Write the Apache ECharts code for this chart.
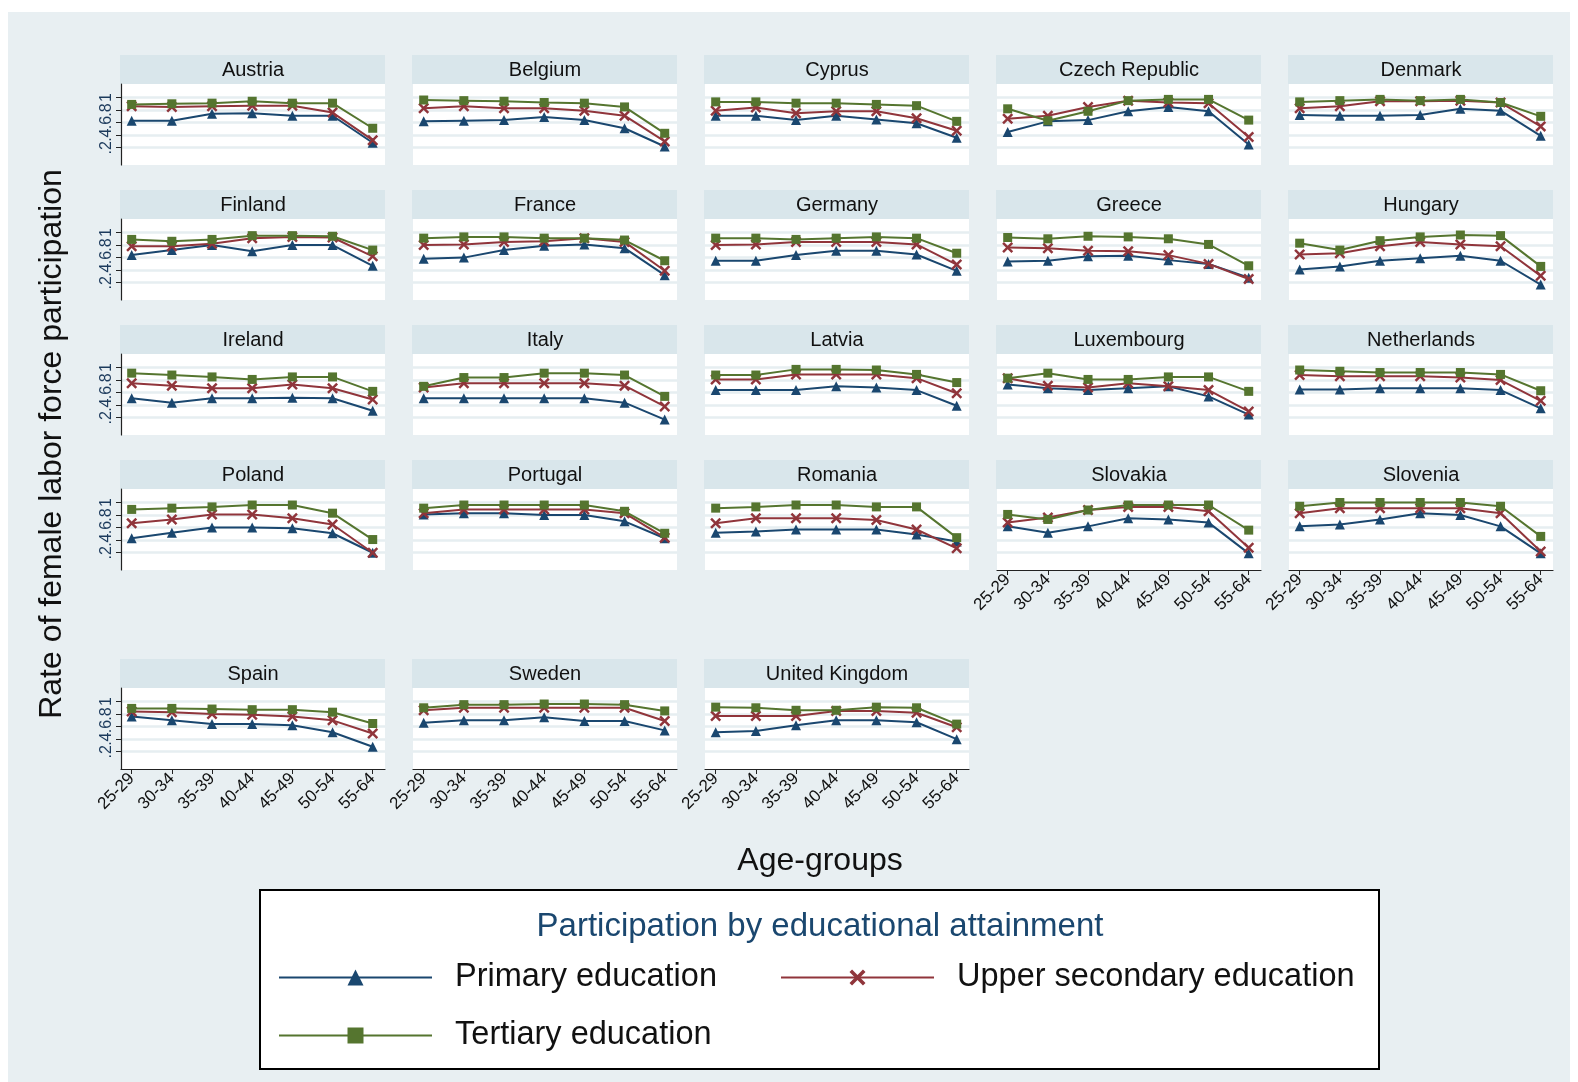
<!DOCTYPE html>
<html><head><meta charset="utf-8">
<script src="https://cdn.jsdelivr.net/npm/echarts@6/dist/echarts.min.js"></script>
<style>html,body{margin:0;padding:0;background:#fff}#c{width:1578px;height:1082px}</style>
</head><body><div id="c"></div>
<script>
const ageGroups = ['25-29','30-34','35-39','40-44','45-49','50-54','55-64'];
const countries = ['Austria','Belgium','Cyprus','Czech Republic','Denmark','Finland','France','Germany','Greece','Hungary','Ireland','Italy','Latvia','Luxembourg','Netherlands','Poland','Portugal','Romania','Slovakia','Slovenia','Spain','Sweden','United Kingdom'];
const primaryEdu = [
  [.63,.63,.74,.75,.71,.71,.28],
  [.62,.63,.64,.69,.64,.51,.22],
  [.71,.71,.64,.71,.65,.59,.36],
  [.45,.62,.64,.78,.85,.78,.25],
  [.72,.71,.71,.72,.82,.79,.39],
  [.64,.72,.80,.70,.80,.80,.47],
  [.58,.60,.72,.79,.81,.75,.32],
  [.55,.55,.64,.71,.71,.65,.39],
  [.54,.55,.62,.63,.56,.50,.28],
  [.41,.46,.55,.59,.63,.55,.17],
  [.51,.44,.51,.51,.52,.51,.31],
  [.51,.51,.51,.51,.51,.44,.17],
  [.64,.64,.64,.70,.68,.64,.39],
  [.73,.67,.64,.67,.70,.54,.25],
  [.65,.65,.67,.67,.67,.64,.35],
  [.43,.52,.60,.60,.59,.51,.20],
  [.81,.83,.83,.80,.80,.70,.43],
  [.52,.54,.57,.57,.57,.49,.38],
  [.62,.52,.62,.75,.73,.68,.19],
  [.62,.65,.73,.83,.80,.62,.19],
  [.76,.70,.64,.64,.62,.51,.28],
  [.66,.70,.70,.75,.69,.69,.54],
  [.51,.53,.62,.70,.70,.67,.40]
];
const upperSecondaryEdu = [
  [.86,.85,.86,.87,.87,.76,.32],
  [.83,.86,.83,.83,.79,.71,.30],
  [.79,.84,.75,.78,.78,.67,.47],
  [.66,.71,.85,.95,.92,.91,.37],
  [.83,.86,.94,.94,.95,.92,.54],
  [.78,.78,.82,.91,.93,.92,.62],
  [.80,.81,.85,.86,.91,.85,.39],
  [.80,.81,.85,.85,.85,.81,.49],
  [.76,.75,.71,.70,.64,.50,.26],
  [.65,.67,.78,.85,.81,.78,.31],
  [.75,.71,.67,.67,.73,.67,.49],
  [.68,.75,.75,.75,.75,.71,.38],
  [.81,.81,.89,.89,.89,.83,.59],
  [.83,.71,.68,.75,.70,.64,.30],
  [.88,.86,.86,.86,.84,.80,.47],
  [.67,.73,.81,.81,.75,.65,.20],
  [.83,.89,.89,.89,.89,.83,.44],
  [.67,.75,.75,.75,.72,.57,.27],
  [.68,.76,.88,.93,.93,.86,.28],
  [.83,.91,.91,.91,.91,.83,.22],
  [.84,.83,.80,.79,.76,.70,.49],
  [.86,.90,.90,.90,.90,.90,.69],
  [.77,.77,.77,.85,.85,.82,.59]
];
const tertiaryEdu = [
  [.89,.90,.91,.94,.91,.91,.51],
  [.96,.95,.94,.92,.91,.85,.43],
  [.93,.93,.91,.91,.89,.87,.62],
  [.82,.63,.78,.95,.97,.97,.64],
  [.93,.95,.97,.95,.97,.92,.70],
  [.89,.86,.89,.95,.95,.94,.72],
  [.91,.93,.93,.91,.91,.88,.55],
  [.91,.91,.89,.91,.93,.91,.67],
  [.92,.90,.94,.93,.90,.81,.47],
  [.83,.72,.87,.93,.96,.95,.46],
  [.91,.88,.85,.81,.85,.85,.62],
  [.70,.84,.84,.91,.91,.88,.54],
  [.88,.88,.97,.97,.96,.89,.76],
  [.83,.91,.81,.81,.85,.85,.62],
  [.96,.94,.92,.92,.92,.89,.63],
  [.89,.91,.93,.96,.96,.83,.41],
  [.91,.96,.96,.96,.96,.86,.51],
  [.91,.93,.96,.96,.93,.93,.44],
  [.81,.73,.88,.96,.96,.96,.56],
  [.94,1.0,1.0,1.0,1.0,.94,.46],
  [.89,.89,.88,.87,.87,.83,.65],
  [.90,.95,.95,.96,.96,.95,.85],
  [.91,.90,.86,.86,.91,.90,.64]
];
const yTicks = [0.2,0.4,0.6,0.8,1];
const yLabelValues = [0,0.2,0.4,0.6,0.8,1];
const seriesNames = ['Primary education','Upper secondary education','Tertiary education'];
const legendTitle = 'Participation by educational attainment';
const yTitle = 'Rate of female labor force participation';
const xTitle = 'Age-groups';

const colors = ['#1a476f','#90353b','#55752f'];
const symbols = ['triangle','path://M0,1.6L1.6,0L5,3.4L8.4,0L10,1.6L6.6,5L10,8.4L8.4,10L5,6.6L1.6,10L0,8.4L3.4,5Z','rect'];
const symbolSizes = [10,11,9];
const FONT = "'Liberation Sans', Arial, sans-serif";
const colX = [121,413,705,997,1289];
const rowTop = [55,190,325,460,659];
const PW = 264, HH = 29, PH = 81;
const bottomPanels = {18:1,19:1,20:1,21:1,22:1};

const grids = [], xAxes = [], yAxes = [], series = [], graphics = [];
graphics.push({type:'rect', z:-100, shape:{x:8,y:12,width:1562,height:1070}, style:{fill:'#e8eff2'}});

countries.forEach((name, i) => {
  const r = i < 20 ? Math.floor(i/5) : 4;
  const c = i < 20 ? i % 5 : i - 20;
  const left = colX[c], top = rowTop[r] + HH;
  grids.push({left:left, top:top, width:PW, height:PH, show:true, backgroundColor:'#fff', borderWidth:0, containLabel:false});
  graphics.push({type:'rect', z:-50, shape:{x:left-1, y:rowTop[r], width:PW+1, height:HH}, style:{fill:'#d9e6eb'}});
  graphics.push({type:'text', z:50, x:left+PW/2, y:rowTop[r]+HH/2+1, style:{text:name, font:'20px '+FONT, fill:'#111', textAlign:'center', textVerticalAlign:'middle'}});
  const isBottom = !!bottomPanels[i];
  xAxes.push({
    type:'value', gridIndex:i, min:-0.266, max:6.306,
    axisLine:{show:isBottom, onZero:false, lineStyle:{color:'#222', width:1.2}},
    axisTick:{show:isBottom, length:5, customValues:[0,1,2,3,4,5,6], lineStyle:{color:'#222'}},
    axisLabel:{show:isBottom, customValues:[0,1,2,3,4,5,6], rotate:45, margin:7, fontSize:17, fontFamily:FONT, color:'#111',
      hideOverlap:false, showMinLabel:true, showMaxLabel:true, overflow:'none',
      formatter:v => ageGroups[Math.round(v)] || ''},
    splitLine:{show:false}
  });
  const isFirstCol = c === 0;
  yAxes.push({
    type:'value', gridIndex:i, min:-0.075, max:1.215,
    axisLine:{show:isFirstCol, onZero:false, lineStyle:{color:'#222', width:1.2}},
    axisTick:{show:isFirstCol, length:5, customValues:yTicks, lineStyle:{color:'#222'}},
    axisLabel:{show:isFirstCol, customValues:yLabelValues, rotate:90, margin:6, fontSize:16, fontFamily:FONT, color:'#1c3a5c',
      hideOverlap:false, overflow:'none',
      formatter:v => v <= 0 ? '' : (v >= 1 ? '1' : '.' + Math.round(v*10))},
    splitLine:{show:true, lineStyle:{color:'#e6eef1', width:2.5}}
  });
  const sets = [primaryEdu[i], upperSecondaryEdu[i], tertiaryEdu[i]];
  sets.forEach((vals, s) => {
    series.push({
      type:'line', name:seriesNames[s], xAxisIndex:i, yAxisIndex:i, z:2+s,
      data: vals.map((v,k) => [k, v]),
      symbol:symbols[s], symbolSize:symbolSizes[s], showSymbol:true,
      lineStyle:{color:colors[s], width:2}, itemStyle:{color:colors[s]},
      animation:false, silent:true
    });
  });
});

// titles
graphics.push({type:'text', z:50, x:52, y:444, rotation:Math.PI/2, style:{text:yTitle, font:'32px '+FONT, fill:'#111', textAlign:'center', textVerticalAlign:'middle'}});
graphics.push({type:'text', z:50, x:820, y:861, style:{text:xTitle, font:'32px '+FONT, fill:'#111', textAlign:'center', textVerticalAlign:'middle'}});
// legend box
graphics.push({type:'rect', z:-40, shape:{x:260,y:890,width:1119,height:179}, style:{fill:'#fff', stroke:'#000', lineWidth:2}});
graphics.push({type:'text', z:50, x:820, y:927, style:{text:legendTitle, font:'33px '+FONT, fill:'#1a476f', textAlign:'center', textVerticalAlign:'middle'}});

const legendBase = {orient:'horizontal', padding:0, itemWidth:153, itemHeight:20, selectedMode:false,
  textStyle:{fontSize:32.5, fontFamily:FONT, color:'#111'}, formatter:'  {name}'};
const legends = [
  Object.assign({}, legendBase, {data:[seriesNames[0]], left:278, top:961}),
  Object.assign({}, legendBase, {data:[seriesNames[1]], left:780, top:961}),
  Object.assign({}, legendBase, {data:[seriesNames[2]], left:278, top:1019})
];

const chart = echarts.init(document.getElementById('c'), null, {renderer:'canvas'});
chart.setOption({
  backgroundColor:'#fff',
  animation:false,
  grid:grids, xAxis:xAxes, yAxis:yAxes, series:series,
  legend:legends,
  graphic:{elements:graphics}
});
</script></body></html>
